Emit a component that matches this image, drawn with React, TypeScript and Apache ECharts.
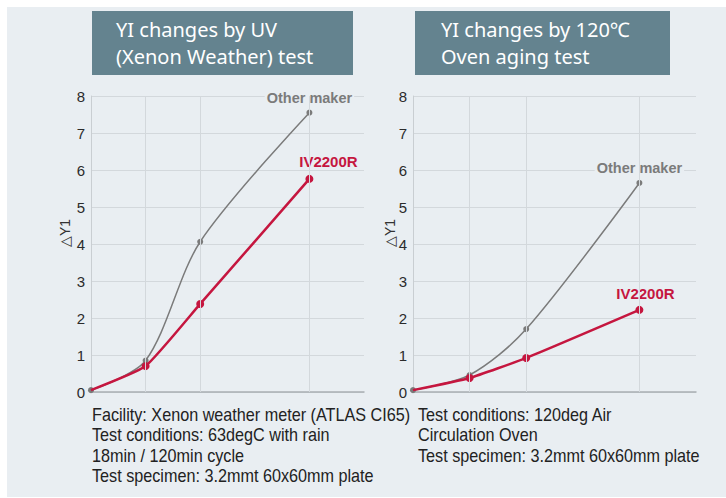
import React, { useEffect, useRef } from "react";
import * as echarts from "echarts";

// x positions of the measurements (evenly scaled test steps)
const xSteps = [0, 1, 2, 4];
const guideX = [1, 2, 4];

// UV (Xenon weather) test, ΔYI
const uvOther = [0.05, 0.85, 4.06, 7.55];
const uvIV = [0.05, 0.7, 2.38, 5.76];

// 120℃ oven aging test, ΔYI
const ovenOther = [0.05, 0.46, 1.7, 5.65];
const ovenIV = [0.05, 0.38, 0.92, 2.22];

const yMin = 0;
const yMax = 8;
const xMax = 5;

const leftTitle = "YI changes by UV\n(Xenon Weather) test";
const rightTitle = "YI changes by 120℃\nOven aging test";
const leftNote = [
  "Facility: Xenon weather meter (ATLAS CI65)",
  "Test conditions: 63degC with rain",
  "18min / 120min cycle",
  "Test specimen: 3.2mmt 60x60mm plate",
];
const rightNote = [
  "Test conditions: 120deg Air",
  "Circulation Oven",
  "Test specimen: 3.2mmt 60x60mm plate",
];
const yName = "△Y1";

const BG = "#e9eef2";
const BOX = "#64838f";
const GRAY = "#7b7b7b";
const RED = "#c5163f";
const GRID = "#d3d8dc";
const FONT = "'Liberation Sans', Arial, sans-serif";

export default function App() {
  const ref = useRef<HTMLDivElement>(null);

  useEffect(() => {
    if (!ref.current) return;
    const chart = echarts.init(ref.current, null, { renderer: "svg" });

    const toData = (vals: number[], label: any, hideFirst: boolean) =>
      vals.map((v, i) => {
        if (i === vals.length - 1) return { value: [xSteps[i], v], label };
        if (i === 0 && hideFirst) return { value: [xSteps[i], v], symbol: "none" };
        return [xSteps[i], v];
      });

    const grayLabel = (text: string) => ({
      show: true,
      formatter: text,
      position: "top",
      distance: 4,
      color: GRAY,
      fontWeight: "bold",
      fontSize: 14.5,
      fontFamily: FONT,
      backgroundColor: BG,
      padding: [0, 2],
    });
    const redLabel = (text: string, offset: number[]) => ({
      show: true,
      formatter: text,
      position: "top",
      distance: 4,
      offset,
      color: RED,
      fontWeight: "bold",
      fontSize: 15,
      fontFamily: FONT,
    });

    const xAxisCfg = (gi: number) => ({
      gridIndex: gi,
      type: "value",
      min: 0,
      max: xMax,
      axisLabel: { show: false },
      axisTick: { show: false },
      splitLine: { show: false },
      axisLine: { lineStyle: { color: "#a9afb3", width: 1.5 } },
    });
    const yAxisCfg = (gi: number) => ({
      gridIndex: gi,
      type: "value",
      min: yMin,
      max: yMax,
      interval: 1,
      axisLabel: { fontSize: 15, color: "#2b2b2b", margin: 6, fontFamily: FONT },
      axisTick: { show: false },
      axisLine: { show: true, lineStyle: { color: "#c9ced2", width: 1 } },
      splitLine: { lineStyle: { color: GRID, width: 1 } },
    });

    const guideSeries = (gi: number) => ({
      type: "line",
      xAxisIndex: gi,
      yAxisIndex: gi,
      data: [],
      z: 1,
      silent: true,
      markLine: {
        silent: true,
        symbol: "none",
        label: { show: false },
        lineStyle: { color: GRID, width: 1, type: "solid" },
        data: guideX.map((x) => ({ xAxis: x })),
      },
    });

    const line = (
      gi: number,
      name: string,
      vals: number[],
      color: string,
      width: number,
      size: number,
      smooth: number,
      label: any,
      z: number,
      hideFirst: boolean
    ) => ({
      type: "line",
      name,
      xAxisIndex: gi,
      yAxisIndex: gi,
      data: toData(vals, label, hideFirst),
      smooth,
      symbol: "circle",
      symbolSize: size,
      lineStyle: { color, width },
      itemStyle: { color },
      label: { show: false },
      z,
    });

    const noteStyle = (lines: string[]) => ({
      text: lines.join("\n"),
      font: `18px ${FONT}`,
      fill: "#222",
      lineHeight: 20.4,
      verticalAlign: "top",
      align: "left",
    });

    const titleStyle = (text: string) => ({
      text,
      font: "20px 'Noto Sans', sans-serif",
      fill: "#ffffff",
      lineHeight: 27,
      verticalAlign: "top",
    });

    const yNameStyle = {
      text: yName,
      font: `14px ${FONT}`,
      fill: "#333",
      align: "center",
      verticalAlign: "middle",
    };

    chart.setOption({
      animation: false,
      backgroundColor: "#ffffff",
      grid: [
        { left: 91, top: 96, width: 273, height: 296 },
        { left: 413, top: 96, width: 283, height: 296 },
      ],
      xAxis: [xAxisCfg(0), xAxisCfg(1)],
      yAxis: [yAxisCfg(0), yAxisCfg(1)],
      series: [
        guideSeries(0),
        guideSeries(1),
        line(0, "Other maker", uvOther, GRAY, 1.5, 6, 0.3, grayLabel("Other maker"), 3, false),
        line(0, "IV2200R", uvIV, RED, 2.5, 8, 0.15, redLabel("IV2200R", [19, -2]), 4, true),
        line(1, "Other maker", ovenOther, GRAY, 1.5, 6, 0.3, grayLabel("Other maker"), 3, false),
        line(1, "IV2200R", ovenIV, RED, 2.5, 8, 0.15, redLabel("IV2200R", [6, -1]), 4, true),
      ],
      graphic: [
        {
          type: "rect",
          z: -10,
          silent: true,
          shape: { x: 7, y: 7, width: 719, height: 490 },
          style: { fill: BG },
        },
        {
          type: "rect",
          z: 10,
          shape: { x: 92, y: 11, width: 261, height: 64 },
          style: { fill: BOX },
        },
        {
          type: "rect",
          z: 10,
          shape: { x: 415, y: 11, width: 255, height: 64 },
          style: { fill: BOX },
        },
        { type: "text", z: 11, x: 116, y: 16, style: titleStyle(leftTitle) },
        { type: "text", z: 11, x: 441, y: 16, style: titleStyle(rightTitle) },
        { type: "text", z: 11, x: 65, y: 233, rotation: Math.PI / 2, style: yNameStyle },
        { type: "text", z: 11, x: 390, y: 233, rotation: Math.PI / 2, style: yNameStyle },
        { type: "text", z: 11, x: 92, y: 405, scaleX: 0.9, style: noteStyle(leftNote) },
        { type: "text", z: 11, x: 418, y: 405, scaleX: 0.9, style: noteStyle(rightNote) },
      ],
    });

    return () => chart.dispose();
  }, []);

  return (
    <div
      ref={ref}
      style={{ position: "fixed", left: 0, top: 0, width: 726, height: 498 }}
    />
  );
}
